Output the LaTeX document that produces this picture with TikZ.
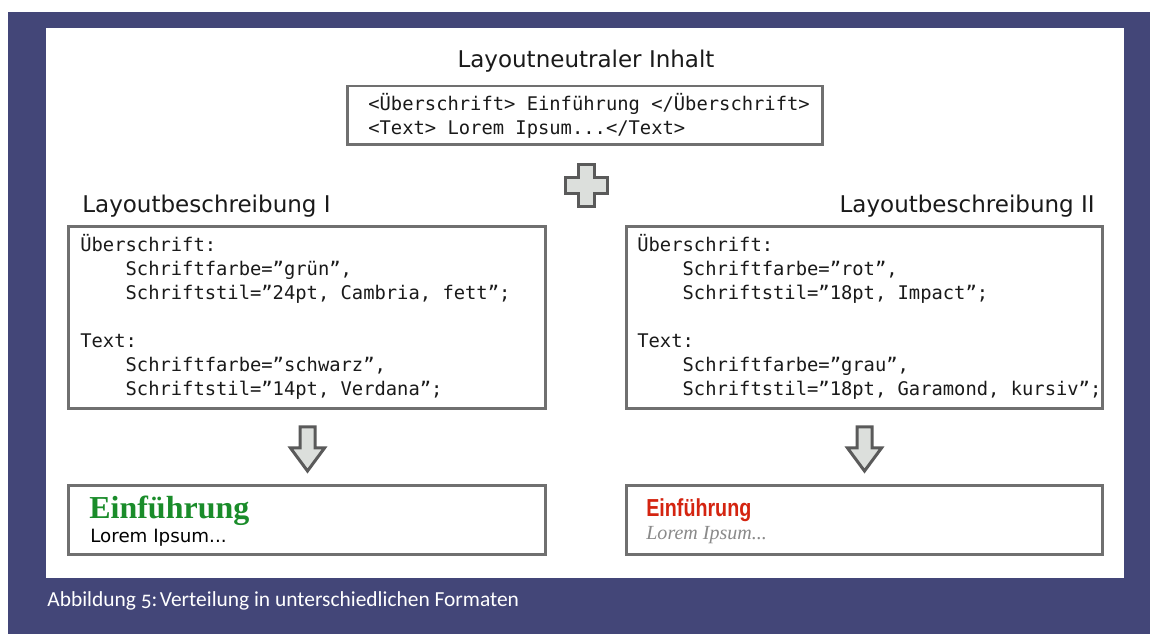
\documentclass[tikz,border=0pt]{standalone}
\usepackage{fontspec}
\setmainfont{DejaVu Sans}
\newfontfamily\codefont{DejaVu Sans Mono}
\newfontfamily\capfont[Numbers=OldStyle]{Carlito}
\newfontfamily\serifont{Liberation Serif}
\newfontfamily\impactfont{Liberation Sans}
\definecolor{navy}{RGB}{67,70,120}
\definecolor{framegray}{RGB}{112,112,112}
\definecolor{symbolgray}{RGB}{90,90,90}
\definecolor{symbolfill}{RGB}{220,223,220}
\definecolor{textblack}{RGB}{26,26,26}
\definecolor{headgreen}{RGB}{26,140,42}
\definecolor{headred}{RGB}{212,36,16}
\definecolor{lorgray}{RGB}{138,138,138}
\newcommand{\layoutbox}[4]{\node[draw=framegray,line width=0.06cm,minimum width=#3,minimum height=#4,inner sep=0pt] at (#1) (#2) {}}
\newcommand{\blockarrow}[1]{\draw[symbol] (#1-7.5,427) -- (#1+7.5,427) -- (#1+7.5,448) -- (#1+17,448) -- (#1,471) -- (#1-17,448) -- (#1-7.5,448) -- cycle}
\newcommand{\codeindent}{\hphantom{0000}}

\begin{document}
\begin{tikzpicture}[x=0.02cm,y=-0.02cm,
	code/.style={font=\codefont\fontsize{10.7}{13.66}\selectfont,align=left,inner sep=0pt,text=textblack},
	head/.style={font=\fontsize{13.1}{16}\selectfont,inner sep=0pt,text=textblack},
	symbol/.style={draw=symbolgray,fill=symbolfill,line width=0.06cm,line join=miter}]
	\useasboundingbox (0,0) rectangle (1150,634);
	\fill[navy] (8,12) rectangle (1150,634);
	\fill[white] (46,28) rectangle (1124,578);
	
	% oben
	\node[head,anchor=base] (title) at (586,68) {Layoutneutraler Inhalt};
	\layoutbox{585,115.5}{neutral}{9.52cm}{1.18cm};
	\node[code,anchor=west] (neutraltext) at (368,116) {<Überschrift> Einführung </Überschrift>\\<Text> Lorem Ipsum...</Text>};
	
	\draw[symbol] (578,165) -- (594,165) -- (594,178) -- (607,178) -- (607,194) -- (594,194) -- (594,207)
		-- (578,207) -- (578,194) -- (565,194) -- (565,178) -- (578,178) -- cycle;
	
	% Layoutbeschreibungen
	\node[head,anchor=base west] (labelI) at (82,213) {Layoutbeschreibung I};
	\node[head,anchor=base east] (labelII) at (1095,213) {Layoutbeschreibung II};
	\layoutbox{307,317.5}{layoutI}{9.56cm}{3.66cm};
	\layoutbox{864.5,317.5}{layoutII}{9.54cm}{3.66cm};
	\node[code,anchor=west] (codeI) at (80,317) {Überschrift:\\
		\codeindent Schriftfarbe=”grün”,\\
		\codeindent Schriftstil=”24pt, Cambria, fett”;\\[13.66pt]
		Text:\\
		\codeindent Schriftfarbe=”schwarz”,\\
		\codeindent Schriftstil=”14pt, Verdana”;};
	\node[code,anchor=west] (codeII) at (637,317) {Überschrift:\\
		\codeindent Schriftfarbe=”rot”,\\
		\codeindent Schriftstil=”18pt, Impact”;\\[13.66pt]
		Text:\\
		\codeindent Schriftfarbe=”grau”,\\
		\codeindent Schriftstil=”18pt, Garamond, kursiv”;};
	
	\blockarrow{307.5};
	\blockarrow{864.5};
	
	% Ergebnisse
	\layoutbox{307,520}{resultI}{9.56cm}{1.4cm};
	\layoutbox{864.5,520}{resultII}{9.54cm}{1.4cm};
	\node[anchor=base west,inner sep=0pt,text=headgreen,font=\serifont\bfseries\fontsize{18.2}{20}\selectfont] (einfI) at (89,519) {Einführung};
	\node[anchor=base west,inner sep=0pt,text=black,font=\fontsize{10.4}{12}\selectfont] (loremI) at (90,543) {Lorem Ipsum...};
	\node[anchor=base west,inner sep=0pt,text=headred,font=\impactfont\bfseries\fontsize{14}{16}\selectfont] (einfII) at (646,517) {\scalebox{0.8}[1]{Einführung}};
	\node[anchor=base west,inner sep=0pt,text=lorgray,font=\serifont\itshape\fontsize{11.4}{13}\selectfont] (loremII) at (646,540) {Lorem Ipsum...};
	
	\node[anchor=base west,inner sep=0pt,text=white,font=\capfont\fontsize{12.2}{14}\selectfont] (caption) at (47,607) {Abbildung 5:\hspace{0.12em}Verteilung in unterschiedlichen Formaten};
\end{tikzpicture}
\end{document}
